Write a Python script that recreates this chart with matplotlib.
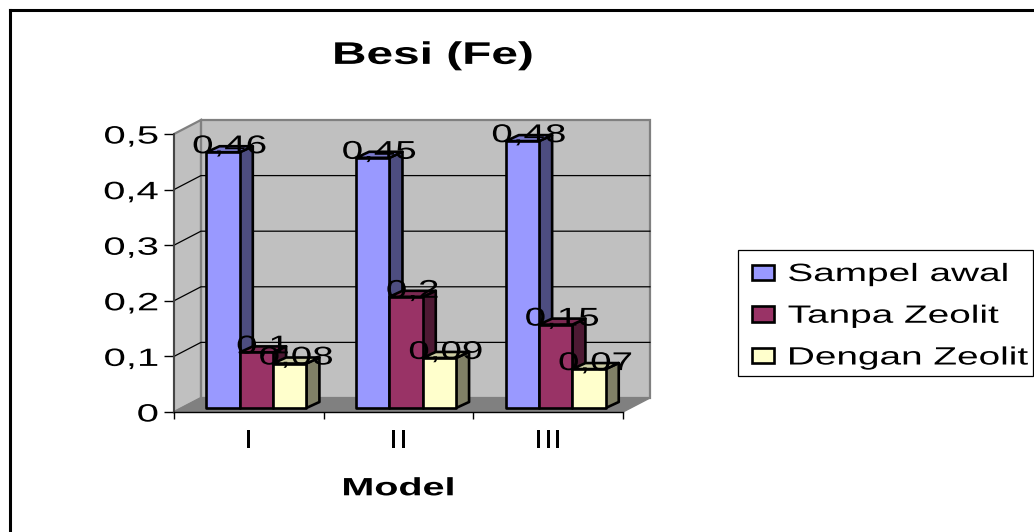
import matplotlib
matplotlib.use("Agg")
import matplotlib.pyplot as plt
import numpy as np
from matplotlib.lines import Line2D
from matplotlib.patches import Polygon, Rectangle
from matplotlib.patheffects import AbstractPathEffect
from matplotlib.transforms import Affine2D

# Data
models = ["I", "II", "III"]
series_names = ["Sampel awal", "Tanpa Zeolit", "Dengan Zeolit"]
sampel_awal = [0.46, 0.45, 0.48]
tanpa_zeolit = [0.1, 0.2, 0.15]
dengan_zeolit = [0.08, 0.09, 0.07]
y_ticks = [0, 0.1, 0.2, 0.3, 0.4, 0.5]
y_labels = ["0", "0,1", "0,2", "0,3", "0,4", "0,5"]

# Colours: front, side and top of each bar
front_colors = ["#9999FF", "#993366", "#FFFFCC"]
side_colors = ["#4D4D80", "#4D1933", "#808066"]
top_colors = ["#7A7ACC", "#7A2952", "#CCCCA3"]

# Fake 3D offsets, in data units of the front plane
WALL_DX, WALL_DY = 0.18, 0.0252
BAR_DX, BAR_DY = 0.087, 0.0108
BASE = 0.0072
BAR_W = 0.2225
GROUP_START = 0.217

W, H = 1034, 532
plt.rcParams["font.family"] = ["Liberation Sans", "DejaVu Sans"]


# Widens the glyphs of a text without touching its height
class StretchX(AbstractPathEffect):
    def __init__(self, factor, anchor="center"):
        super().__init__()
        self.factor = factor
        self.anchor = anchor

    def draw_path(self, renderer, gc, tpath, affine, rgbFace=None):
        box = tpath.get_extents()
        cx = {"left": box.x0, "right": box.x1}.get(self.anchor, (box.x0 + box.x1) / 2)
        stretch = Affine2D().translate(-cx, 0).scale(self.factor, 1).translate(cx, 0)
        renderer.draw_path(gc, tpath, stretch + affine, rgbFace)


def px(x, y):
    return x / W, 1 - y / H


fig = plt.figure(figsize=(W / 100, H / 100), dpi=100, facecolor="white")
ax = fig.add_axes([174 / W, 1 - 412 / H, 449 / W, 278 / H])
ax.set_xlim(0, 3)
ax.set_ylim(0, 0.5)
ax.patch.set_visible(False)
ax.spines["top"].set_visible(False)
ax.spines["right"].set_visible(False)
ax.spines["left"].set_color("#404040")
ax.spines["left"].set_linewidth(1.3)
ax.spines["bottom"].set_linewidth(1)

# Walls and floor
wall = dict(facecolor="#C0C0C0", edgecolor="#808080", linewidth=1.6, clip_on=False, zorder=1)
ax.add_patch(Polygon([(WALL_DX, WALL_DY), (3 + WALL_DX, WALL_DY),
                      (3 + WALL_DX, 0.5 + WALL_DY), (WALL_DX, 0.5 + WALL_DY)], **wall))
ax.add_patch(Polygon([(0, 0), (WALL_DX, WALL_DY), (WALL_DX, 0.5 + WALL_DY), (0, 0.5)], **wall))
ax.add_patch(Polygon([(0, 0), (3, 0), (3 + WALL_DX, WALL_DY), (WALL_DX, WALL_DY)],
                     facecolor="#808080", edgecolor="#808080", linewidth=1, clip_on=False, zorder=1.2))

# Grid lines run along the left wall and the back wall
for t in y_ticks[1:-1]:
    ax.plot([0, WALL_DX, 3 + WALL_DX], [t, t + WALL_DY, t + WALL_DY],
            color="black", lw=0.9, clip_on=False, zorder=1.5)

# Bars, one series at a time so later fronts cover earlier sides
all_series = [sampel_awal, tanpa_zeolit, dengan_zeolit]
handles = []
for j, values in enumerate(all_series):
    xs = np.arange(3) + GROUP_START + j * BAR_W
    edge = dict(edgecolor="black", linewidth=1.9, clip_on=False, zorder=3 + j, joinstyle="round")
    for x, v in zip(xs, values):
        top = v + BASE
        ax.add_patch(Polygon([(x + BAR_W, BASE), (x + BAR_W + BAR_DX, BASE + BAR_DY),
                              (x + BAR_W + BAR_DX, top + BAR_DY), (x + BAR_W, top)],
                             facecolor=side_colors[j], **edge))
        ax.add_patch(Polygon([(x, top), (x + BAR_W, top),
                              (x + BAR_W + BAR_DX, top + BAR_DY), (x + BAR_DX, top + BAR_DY)],
                             facecolor=top_colors[j], **edge))
    bars = ax.bar(xs, values, BAR_W, bottom=BASE, align="edge", color=front_colors[j],
                  label=series_names[j], **edge)
    handles.append(bars)

# Value labels sit over the bar tops
for j, values in enumerate(all_series):
    xs = np.arange(3) + GROUP_START + j * BAR_W
    for x, v in zip(xs, values):
        ax.text(x + BAR_W / 2 + BAR_DX / 2, v + BASE + BAR_DY, str(v).replace(".", ","),
                fontsize=18.5, ha="center", va="center", color="black", zorder=10,
                path_effects=[StretchX(1.5)])

# Axis ticks and labels
ax.set_yticks(y_ticks)
ax.set_yticklabels(y_labels, fontsize=18)
ax.tick_params(axis="y", length=7.2, width=1, pad=4)
for lab in ax.get_yticklabels():
    lab.set_path_effects([StretchX(1.6, "right")])

ax.set_xticks([0, 1, 2, 3])
ax.set_xticklabels([])
ax.set_xticks([0.5, 1.5, 2.5], minor=True)
ax.set_xticklabels(models, minor=True, fontsize=19)
ax.tick_params(axis="x", which="major", length=5, width=1)
ax.tick_params(axis="x", which="minor", length=0, pad=12)
for lab in ax.get_xticklabels(minor=True):
    lab.set_path_effects([StretchX(1.3)])

ax.set_xlabel("Model", fontsize=18, fontweight="bold", labelpad=17,
              path_effects=[StretchX(1.58)])
ax.set_title("Besi (Fe)", fontsize=22.5, fontweight="bold", x=0.577, pad=50.5,
             path_effects=[StretchX(1.53)])

# Legend with its own frame, the labels are wider than the layout assumes
fig.add_artist(Rectangle(px(738, 376), 295 / W, 126 / H, transform=fig.transFigure,
                         facecolor="white", edgecolor="black", linewidth=0.9, zorder=-1))
leg = ax.legend(handles=handles, loc="upper left", bbox_to_anchor=px(752, 262),
                bbox_transform=fig.transFigure, frameon=False, fontsize=18,
                borderpad=0, borderaxespad=0, handlelength=0.88, handleheight=0.56,
                handletextpad=0.56, labelspacing=0.71)
leg.set_zorder(20)
for t in leg.get_texts():
    t.set_path_effects([StretchX(1.55, "left")])

# Outer frame: top and left only
for xs, ys in [((10, 10), (10, H)), ((10, W), (10, 10))]:
    fx, fy = zip(*[px(x, y) for x, y in zip(xs, ys)])
    fig.add_artist(Line2D(fx, fy, color="black", linewidth=2.2, transform=fig.transFigure))

fig.savefig("out.png", dpi=100)
